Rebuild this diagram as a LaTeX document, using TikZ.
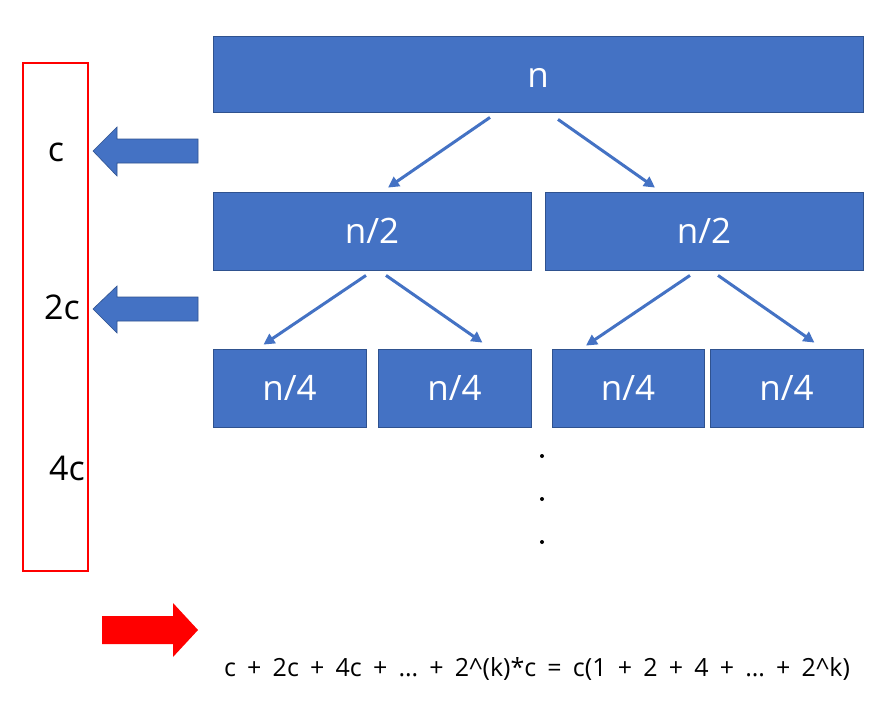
\documentclass[tikz,border=0pt]{standalone}
\usepackage{fontspec}
\setmainfont{Open Sans}
\usetikzlibrary{calc,arrows.meta}
\definecolor{boxblue}{HTML}{4472C4}
\definecolor{boxedge}{HTML}{2F528F}
\begin{document}
\begin{tikzpicture}[x=1pt,y=-1pt,
  blk/.style={draw=boxedge,line width=0.8pt,fill=boxblue,text=white,inner sep=0pt,font=\fontsize{35}{40}\selectfont},
  tarrow/.style={draw=boxblue,line width=3pt,-{Triangle[length=11pt,width=11pt]}},
  lab/.style={font=\fontsize{34}{38}\selectfont,text=black,inner sep=0pt},
  barrow/.style={fill=boxblue,draw=boxedge,line width=0.6pt},
  dotm/.style={circle,fill=black,inner sep=0pt,minimum size=4pt}]
\useasboundingbox (0,0) rectangle (881,704);
\fill[white] (0,0) rectangle (881,704);
% boxes
\node[blk,minimum width=650pt,minimum height=76pt] (n) at (538,74) {};
\node[blk,draw=none,fill=none] (nt) at (538,78) {n};
\node[blk,minimum width=318pt,minimum height=78pt] (a) at (372,231) {\raisebox{-2pt}{n/2}};
\node[blk,minimum width=318pt,minimum height=78pt] (b) at (704,231) {\raisebox{-2pt}{n/2}};
\node[blk,minimum width=153pt,minimum height=78pt] (a1) at (289.5,388) {\raisebox{-1pt}{n/4}};
\node[blk,minimum width=153pt,minimum height=78pt] (a2) at (454.5,388) {\raisebox{-1pt}{n/4}};
\node[blk,minimum width=152pt,minimum height=78pt] (b1) at (628,388) {\raisebox{-1pt}{n/4}};
\node[blk,minimum width=153pt,minimum height=78pt] (b2) at (786.5,388) {\raisebox{-1pt}{n/4}};
% tree arrows
\draw[tarrow] ($(n.south)+(-48,5)$) -- ($(a.north)+(16,-4)$);
\draw[tarrow] ($(n.south)+(20,7)$) -- ($(b.north)+(-49,-4)$);
\draw[tarrow] ($(a.south)+(-6,5)$) -- ($(a1.north)+(-26,-4)$);
\draw[tarrow] ($(a.south)+(14,5)$) -- ($(a2.north)+(28,-6)$);
\draw[tarrow] ($(b.south)+(-14,5)$) -- ($(b1.north)+(-42,-3)$);
\draw[tarrow] ($(b.south)+(14,5)$) -- ($(b2.north)+(28,-6)$);
% red bracket
\node[draw=red,line width=2.5pt,minimum width=65pt,minimum height=508pt,inner sep=0pt] (brk) at (55.5,317) {};
\node[lab] (c1) at (56,152) {c};
\node[lab] (c2) at (62,307) {2c};
\node[lab] (c3) at (67,468) {4c};
% left block arrows
\draw[barrow] (93,151) -- (117,127) -- (117,139) -- (198,139) -- (198,163) -- (117,163) -- (117,176) -- cycle;
\draw[barrow] (93,309) -- (117,286) -- (117,297) -- (198,297) -- (198,321) -- (117,321) -- (117,333) -- cycle;
% red arrow
\fill[red] (102,616) -- (173,616) -- (173,603) -- (198,630) -- (173,657) -- (173,644) -- (102,644) -- cycle;
% dots
\node[dotm] (d1) at (542,456) {};
\node[dotm] (d2) at (542,499) {};
\node[dotm] (d3) at (542,542) {};
% formula
\node[font=\fontsize{25}{28}\selectfont,inner sep=0pt] (f) at (537,669) {\spaceskip=11.2pt plus 0pt minus 0pt c + 2c + 4c + … + 2\^{}(k)*c = c(1 + 2 + 4 + … + 2\^{}k)};
\end{tikzpicture}
\end{document}
